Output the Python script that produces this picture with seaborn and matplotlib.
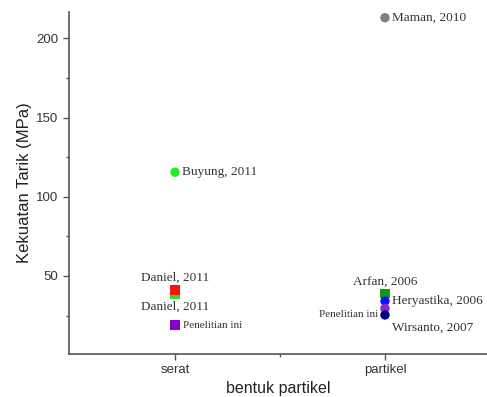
import matplotlib
matplotlib.use("Agg")
import matplotlib.pyplot as plt
import seaborn as sns
import pandas as pd
from matplotlib.ticker import MultipleLocator, FixedLocator

# Tensile strength by particle form
categories = ["serat", "partikel"]
bentuk = ["serat", "serat", "serat", "serat",
          "partikel", "partikel", "partikel", "partikel", "partikel"]
kekuatan = [115.5, 38.6, 41.2, 19.0,
            213.0, 38.8, 34.2, 29.5, 25.4]
sumber = ["Buyung, 2011", "Daniel, 2011", "Daniel, 2011", "Penelitian ini",
          "Maman, 2010", "Arfan, 2006", "Heryastika, 2006", "Penelitian ini",
          "Wirsanto, 2007"]
warna = ["#22ee22", "#33dd33", "#ff1111", "#8800cc",
         "#808080", "#119911", "#1111ff", "#9922cc", "#000088"]
penanda = ["o", "s", "s", "s", "o", "s", "o", "o", "o"]

# label placement: offset in points and horizontal alignment
offsets = [(5, 0), (0, -9), (0, 9), (6, 0),
           (5, 0), (0, 8), (5, 0), (-5, -4), (5, -9)]
aligns = ["left", "center", "center", "left",
          "left", "center", "left", "right", "left"]
sizes = [9.5, 9.5, 9.5, 8, 9.5, 9.5, 9.5, 8, 9.5]

df = pd.DataFrame({"bentuk": bentuk, "kekuatan": kekuatan,
                   "id": [str(i) for i in range(len(bentuk))]})
df["xpos"] = df["bentuk"].map({c: i for i, c in enumerate(categories)})

sns.set_theme(style="ticks")
plt.rcParams["font.family"] = ["Liberation Sans", "DejaVu Sans"]

fig = plt.figure(figsize=(4.87, 3.97), dpi=100)
ax = fig.add_axes([0.1417, 0.1083, 0.8583, 0.8622])

sns.scatterplot(data=df, x="xpos", y="kekuatan", hue="id", style="id",
                palette=dict(zip(df["id"], warna)),
                markers=dict(zip(df["id"], penanda)),
                s=46, linewidth=0, legend=False, ax=ax, zorder=3)

for xi, yi, txt, off, ha, fs in zip(df["xpos"], kekuatan, sumber, offsets, aligns, sizes):
    ax.annotate(txt, (xi, yi), xytext=off, textcoords="offset points",
                ha=ha, va="center", fontsize=fs, color="#333333",
                family=["Liberation Serif", "DejaVu Serif"])

ax.set_xlim(-0.505, 1.486)
ax.set_ylim(0.75, 216.8)
ax.set_xticks(range(len(categories)))
ax.set_xticklabels(categories)
ax.xaxis.set_minor_locator(FixedLocator([0.5]))
ax.yaxis.set_major_locator(FixedLocator([50, 100, 150, 200]))
ax.yaxis.set_minor_locator(MultipleLocator(25))

ax.set_xlabel("bentuk partikel", fontsize=11.5, color="#222222", labelpad=3)
ax.set_ylabel("Kekuatan Tarik (MPa)", fontsize=12, color="#222222", labelpad=3)

for side in ("top", "right"):
    ax.spines[side].set_visible(False)
for side in ("left", "bottom"):
    ax.spines[side].set_color("#555555")
    ax.spines[side].set_linewidth(1.2)

ax.tick_params(axis="both", which="major", length=4, width=1, color="#555555",
               labelsize=9.5, labelcolor="#333333", direction="out")
ax.tick_params(axis="both", which="minor", length=2.5, width=1, color="#555555",
               direction="out")

fig.savefig("out.png", dpi=100)
